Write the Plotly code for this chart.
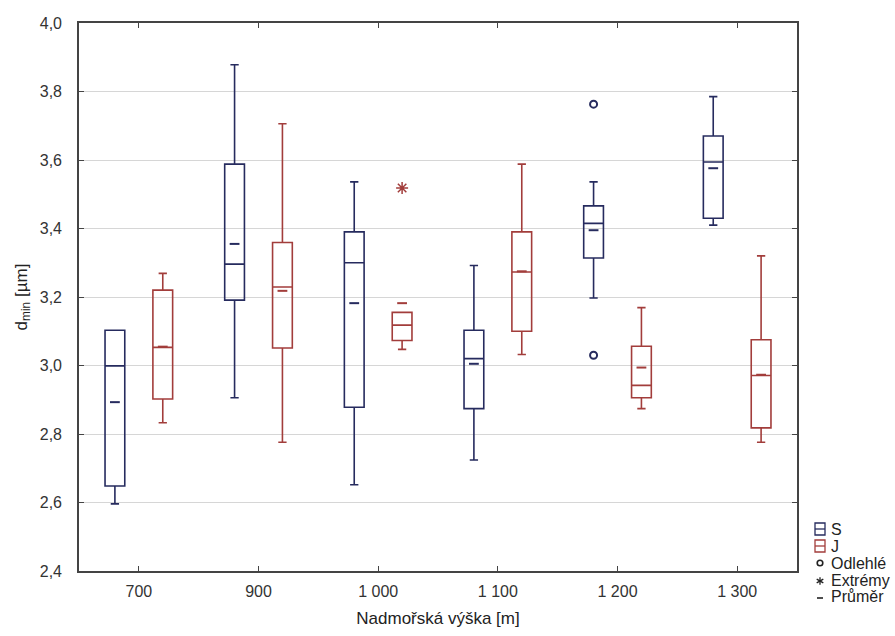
import math
import plotly.graph_objects as go

categories = ["700", "900", "1 000", "1 100", "1 200", "1 300"]

# Series S (navy)
S_lower = [2.596, 2.906, 2.652, 2.724, 3.197, 3.410]
S_q1 = [2.648, 3.191, 2.878, 2.874, 3.314, 3.430]
S_median = [2.999, 3.296, 3.300, 3.020, 3.415, 3.594]
S_q3 = [3.103, 3.588, 3.390, 3.103, 3.466, 3.670]
S_upper = [3.103, 3.878, 3.536, 3.292, 3.536, 3.785]
S_mean = [2.893, 3.355, 3.182, 3.005, 3.395, 3.576]

# Series J (red)
J_lower = [2.833, 2.776, 3.047, 3.032, 2.874, 2.776]
J_q1 = [2.902, 3.051, 3.073, 3.100, 2.906, 2.818]
J_median = [3.053, 3.229, 3.118, 3.273, 2.942, 2.971]
J_q3 = [3.220, 3.359, 3.155, 3.390, 3.056, 3.075]
J_upper = [3.269, 3.706, 3.155, 3.588, 3.169, 3.320]
J_mean = [3.055, 3.218, 3.182, 3.275, 2.994, 2.973]

# Outliers (S at 1 200) and extremes (J at 1 000)
S_outlier_cat = ["1 200", "1 200"]
S_outlier_val = [3.763, 3.030]
J_extreme_cat = ["1 000"]
J_extreme_val = [3.518]

y_ticks = [2.4, 2.6, 2.8, 3.0, 3.2, 3.4, 3.6, 3.8, 4.0]
y_ticktext = ["2,4", "2,6", "2,8", "3,0", "3,2", "3,4", "3,6", "3,8", "4,0"]

legend_labels = ["S", "J", "Odlehlé", "Extrémy", "Průměr"]

S_COLOR = "#262b5e"
J_COLOR = "#a23d3b"
DARK = "#222222"
OFFSET = 0.2
FONT = "Liberation Sans, Arial, sans-serif"

W, H = 895, 636
ML, MR, MT, MB = 79, 98, 23, 65
PW, PH = W - ML - MR, H - MT - MB


def px(xp):
    return (xp - ML) / PW


def py(yp):
    return (H - MB - yp) / PH


idx = {c: i for i, c in enumerate(categories)}
xs_S = [i - OFFSET for i in range(len(categories))]
xs_J = [i + OFFSET for i in range(len(categories))]

fig = go.Figure()

for name, xs, lo, q1, med, q3, up, col in [
    ("S", xs_S, S_lower, S_q1, S_median, S_q3, S_upper, S_COLOR),
    ("J", xs_J, J_lower, J_q1, J_median, J_q3, J_upper, J_COLOR),
]:
    fig.add_trace(go.Box(
        name=name, x=xs, q1=q1, median=med, q3=q3,
        lowerfence=lo, upperfence=up, boxpoints=False,
        width=0.165, whiskerwidth=0.42,
        line=dict(color=col, width=1.6), fillcolor="rgba(255,255,255,0)",
        showlegend=False, hoverinfo="skip",
    ))

for xs, ms, col in [(xs_S, S_mean, S_COLOR), (xs_J, J_mean, J_COLOR)]:
    fig.add_trace(go.Scatter(
        x=xs, y=ms, mode="markers", showlegend=False, hoverinfo="skip",
        marker=dict(symbol="line-ew", size=7, color=col, line=dict(color=col, width=2)),
    ))

fig.add_trace(go.Scatter(
    x=[idx[c] - OFFSET for c in S_outlier_cat], y=S_outlier_val, mode="markers",
    showlegend=False, hoverinfo="skip",
    marker=dict(symbol="circle-open", size=7, color=S_COLOR, line=dict(color=S_COLOR, width=2)),
))
fig.add_trace(go.Scatter(
    x=[idx[c] + OFFSET for c in J_extreme_cat], y=J_extreme_val, mode="markers",
    showlegend=False, hoverinfo="skip",
    marker=dict(symbol="asterisk-open", size=10, color=J_COLOR, line=dict(color=J_COLOR, width=1.5)),
))

# Manual legend to the right of the plot area
icon_cx = 820
text_x = 829
row_y = [529, 546, 563, 580, 597]
kinds = [("box", S_COLOR), ("box", J_COLOR), ("circle", DARK), ("asterisk", DARK), ("dash", DARK)]
for label, (kind, col), ry in zip(legend_labels, kinds, row_y):
    if kind == "box":
        fig.add_shape(type="rect", xref="paper", yref="paper",
                      x0=px(icon_cx - 5), x1=px(icon_cx + 5),
                      y0=py(ry + 6), y1=py(ry - 6),
                      line=dict(color=col, width=1.3))
        fig.add_shape(type="line", xref="paper", yref="paper",
                      x0=px(icon_cx - 5), x1=px(icon_cx + 5),
                      y0=py(ry), y1=py(ry), line=dict(color=col, width=1.3))
    elif kind == "circle":
        fig.add_shape(type="circle", xref="paper", yref="paper",
                      x0=px(icon_cx - 2.8), x1=px(icon_cx + 2.8),
                      y0=py(ry + 2.8), y1=py(ry - 2.8),
                      line=dict(color=col, width=1.6))
    elif kind == "asterisk":
        for ang in (90, 30, 150):
            dx = 3.8 * math.cos(math.radians(ang))
            dy = 3.8 * math.sin(math.radians(ang))
            fig.add_shape(type="line", xref="paper", yref="paper",
                          x0=px(icon_cx - dx), x1=px(icon_cx + dx),
                          y0=py(ry + 1 - dy), y1=py(ry + 1 + dy),
                          line=dict(color=col, width=1.3))
    else:
        fig.add_shape(type="line", xref="paper", yref="paper",
                      x0=px(icon_cx - 3), x1=px(icon_cx + 3),
                      y0=py(ry + 1), y1=py(ry + 1),
                      line=dict(color=col, width=1.6))
    fig.add_annotation(x=px(text_x), y=py(ry), xref="paper", yref="paper",
                       text=label, showarrow=False, xanchor="left", yanchor="middle",
                       font=dict(size=16, color=DARK, family=FONT))

fig.update_layout(
    width=W, height=H,
    margin=dict(l=ML, r=MR, t=MT, b=MB),
    paper_bgcolor="white", plot_bgcolor="white",
    font=dict(family=FONT, size=16, color="#333333"),
    showlegend=False,
    xaxis=dict(
        range=[-0.5, len(categories) - 0.5],
        tickvals=list(range(len(categories))), ticktext=categories,
        ticks="inside", ticklen=5, tickcolor="#444444",
        showline=True, linecolor="#444444", linewidth=1.6, mirror="ticks",
        showgrid=False, zeroline=False, ticklabelstandoff=5,
        title=dict(text="Nadmořská výška [m]", font=dict(size=17, color=DARK), standoff=13),
        tickfont=dict(size=16, color="#333333"),
    ),
    yaxis=dict(
        range=[2.4, 4.0], tickvals=y_ticks, ticktext=y_ticktext,
        ticks="inside", ticklen=5, tickcolor="#444444",
        showline=True, linecolor="#444444", linewidth=1.6, mirror="ticks",
        showgrid=True, gridcolor="#d6d6d6", gridwidth=1, zeroline=False,
        ticklabelstandoff=12,
        title=dict(text="d<sub>min</sub> [µm]", font=dict(size=17, color=DARK), standoff=8),
        tickfont=dict(size=16, color="#333333"),
    ),
)

fig.write_html("out.html")
